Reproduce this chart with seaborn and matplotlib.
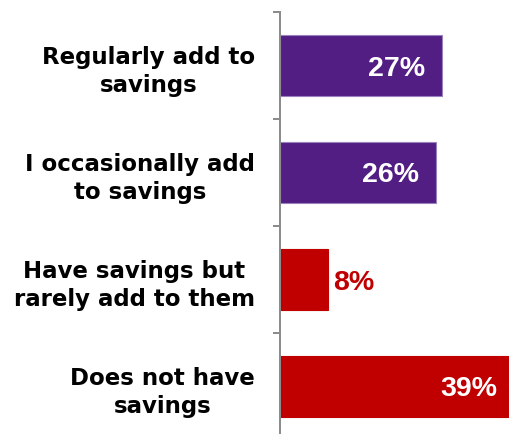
import matplotlib
matplotlib.use("Agg")
import matplotlib.pyplot as plt
import seaborn as sns
import pandas as pd

# Survey responses: saving habits
categories = [
    "Regularly add to\nsavings",
    "I occasionally add\nto savings",
    "Have savings but\nrarely add to them",
    "Does not have\nsavings",
]
values = [27, 26, 8, 39]
bar_colors = ["#521E83", "#521E83", "#C00000", "#C00000"]
edge_colors = ["#9A82BF", "#9A82BF", "#C00000", "#C00000"]

df = pd.DataFrame({"category": categories, "value": values})

sns.set_theme(style="white")
plt.rcParams["font.family"] = ["Liberation Sans", "DejaVu Sans"]

W, H, DPI = 510, 435, 100
fig = plt.figure(figsize=(W / DPI, H / DPI), dpi=DPI)
px = 72 / DPI  # points per pixel

x_max = 40
ax = fig.add_axes([280 / W, -6 / H, 6 * x_max / W, 428 / H])

sns.barplot(
    data=df, x="value", y="category", hue="category",
    palette=bar_colors, orient="h", width=0.57, saturation=1,
    legend=False, ax=ax,
)
for patch, ec in zip(ax.patches, edge_colors):
    patch.set_edgecolor(ec)
    patch.set_linewidth(0.8)

ax.set_xlim(0, x_max)
ax.set_ylim(3.5, -0.5)
ax.set_xlabel("")
ax.set_ylabel("")
ax.set_xticks([])

# Category labels centred between boundary ticks
ax.set_yticks(range(len(categories)))
ax.set_yticklabels(categories, fontsize=16.5, fontweight="bold",
                   family="DejaVu Sans", color="black",
                   multialignment="center", linespacing=1.3)
ax.tick_params(axis="y", which="major", length=0, pad=25 * px)
ax.set_yticks([i - 0.5 for i in range(len(categories) + 1)], minor=True)
ax.tick_params(axis="y", which="minor", length=7 * px, width=2 * px,
               color="#8C8C8C", left=True)

for side in ["top", "right", "bottom"]:
    ax.spines[side].set_visible(False)
ax.spines["left"].set_color("#8C8C8C")
ax.spines["left"].set_linewidth(2 * px)

# Value labels
for i, v in enumerate(values):
    if v >= 15:
        ax.annotate(f"{v}%", xy=(v, i), xytext=(-17 * px, -2 * px),
                    textcoords="offset points", ha="right", va="center",
                    color="white", fontsize=20.5, fontweight="bold",
                    annotation_clip=False)
    else:
        ax.annotate(f"{v}%", xy=(v, i), xytext=(5 * px, -2 * px),
                    textcoords="offset points", ha="left", va="center",
                    color=bar_colors[i], fontsize=20.5, fontweight="bold",
                    annotation_clip=False)

fig.savefig("out.png", dpi=DPI)
